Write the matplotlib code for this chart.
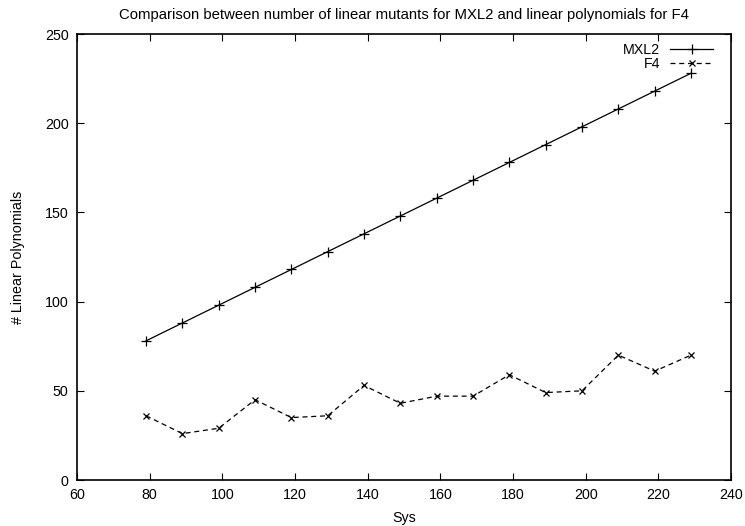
import matplotlib
matplotlib.use("Agg")
import matplotlib.pyplot as plt

plt.rcParams['font.family'] = ['Liberation Sans', 'DejaVu Sans']
plt.rcParams['font.size'] = 10.3

sys_vals = [79, 89, 99, 109, 119, 129, 139, 149, 159, 169, 179, 189, 199, 209, 219, 229]
mxl2 = [78, 88, 98, 108, 118, 128, 138, 148, 158, 168, 178, 188, 198, 208, 218, 228]
f4 = [36, 26, 29, 45, 35, 36, 53, 43, 47, 47, 59, 49, 50, 70, 61, 70]
x_ticks = [60, 80, 100, 120, 140, 160, 180, 200, 220, 240]
y_ticks = [0, 50, 100, 150, 200, 250]

fig = plt.figure(figsize=(7.45, 5.26), dpi=100)
ax = fig.add_axes([77/745, 1-480/526, (731-77)/745, (480-34)/526])

ax.plot(sys_vals, mxl2, color='black', lw=0.9, marker='+', ms=6.5, mew=0.9, label='MXL2')
ax.plot(sys_vals, f4, color='black', lw=0.9, ls=(0, (4, 3)), marker='x', ms=5, mew=0.9, label='F4')

ax.set_xlim(60, 240)
ax.set_ylim(0, 250)
ax.set_xticks(x_ticks)
ax.set_yticks(y_ticks)
ax.tick_params(direction='in', length=5, width=0.8, top=True, right=True, pad=6)
for s in ax.spines.values():
    s.set_linewidth(1.2)

ax.set_title('Comparison between number of linear mutants for MXL2 and linear polynomials for F4',
             fontsize=10.7, pad=11)
ax.set_xlabel('Sys', labelpad=6)
ax.set_ylabel('# Linear Polynomials', labelpad=14)

ax.legend(loc='upper right', bbox_to_anchor=((713-77)/654, (480-43)/446),
          frameon=False, markerfirst=False, handlelength=3.0,
          handletextpad=0.7, labelspacing=0.0, borderaxespad=0.0, borderpad=0.0)

fig.savefig('out.png', dpi=100)
